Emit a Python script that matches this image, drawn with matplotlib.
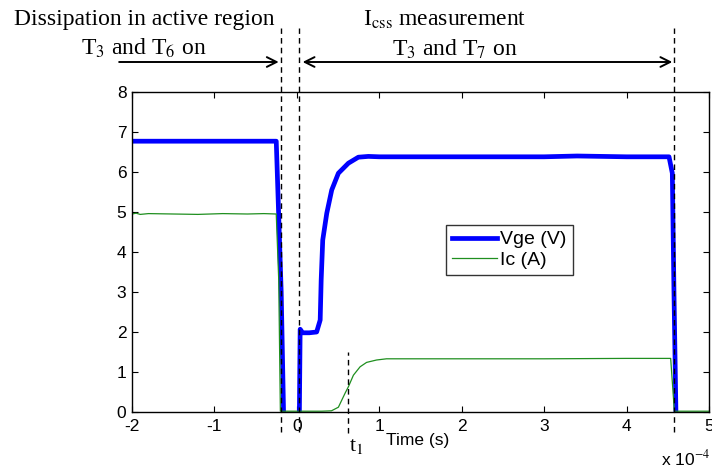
import matplotlib
matplotlib.use("Agg")
import matplotlib.pyplot as plt

# ---------------- data (time in units of 1e-4 s) ----------------
t_vge = [-2.0, -0.25, -0.19, -0.16, 0.03, 0.04, 0.07, 0.15, 0.24, 0.283, 0.295,
         0.314, 0.363, 0.423, 0.504, 0.625, 0.746, 0.867, 1.0, 2.0, 3.0, 3.4,
         4.0, 4.515, 4.555, 4.575, 4.60, 5.0]
vge = [6.77, 6.77, 3.0, -0.15, -0.15, 2.07, 1.98, 1.98, 2.0, 2.3, 3.3,
       4.3, 4.97, 5.55, 5.97, 6.22, 6.37, 6.39, 6.38, 6.38, 6.38, 6.40,
       6.38, 6.38, 5.97, 3.0, -0.15, -0.15]

t_ic = [-2.0, -1.95, -1.9, -1.8, -1.5, -1.2, -0.9, -0.6, -0.4, -0.25, -0.22,
        -0.20, 0.30, 0.42, 0.504, 0.585, 0.625, 0.686, 0.767, 0.846, 0.967,
        1.088, 2.0, 3.0, 4.0, 4.535, 4.58, 5.0]
ic = [4.95, 4.97, 4.94, 4.96, 4.95, 4.94, 4.96, 4.95, 4.96, 4.95, 3.3,
      0.02, 0.02, 0.03, 0.12, 0.47, 0.63, 0.92, 1.13, 1.24, 1.30,
      1.33, 1.33, 1.33, 1.34, 1.34, 0.02, 0.02]

xticks = [-2, -1, 0, 1, 2, 3, 4, 5]
yticks = [0, 1, 2, 3, 4, 5, 6, 7, 8]
dash_x = [-0.19, 0.03, 4.575]
t1_x = 0.62

# ---------------- figure ----------------
W, H = 712, 468
fig = plt.figure(figsize=(W / 100, H / 100), dpi=100)
ax = fig.add_axes([132 / W, 1 - 412 / H, (709 - 132) / W, (412 - 92) / H])

plt.rcParams['mathtext.fontset'] = 'stix'
sans = 'Liberation Sans'
serif = 'Liberation Serif'

ax.plot(t_vge, vge, color='#0000ff', lw=3.4, label='Vge (V)', zorder=3)
ax.plot(t_ic, ic, color='#1f8f1f', lw=0.9, label='Ic (A)', zorder=4)

ax.set_xlim(-2, 5)
ax.set_ylim(0, 8)
ax.set_xticks(xticks)
ax.set_xticklabels([str(v) for v in xticks], fontfamily=sans, fontsize=12.5)
ax.set_yticks(yticks)
ax.set_yticklabels([str(v) for v in yticks], fontfamily=sans, fontsize=12.5)
ax.tick_params(direction='in', length=4, width=0.8, top=True, right=True)
ax.tick_params(axis='x', pad=5)
ax.tick_params(axis='y', pad=4)
for s in ax.spines.values():
    s.set_linewidth(1.0)
    s.set_zorder(6)

# dashed vertical markers (extend beyond axes)
for xv in dash_x:
    ax.plot([xv, xv], [-0.5, 9.6], ls=(0, (4, 3)), color='black', lw=1.0,
            clip_on=False, zorder=5)
ax.plot([t1_x, t1_x], [-0.52, 1.5], ls=(0, (4, 3)), color='black', lw=1.0,
        clip_on=False, zorder=5)

# arrows
arrow_y = 8.75
aprops = dict(arrowstyle='->,head_length=0.7,head_width=0.35', lw=1.4,
              color='black', shrinkA=0, shrinkB=0)
ax.annotate('', xy=(-0.22, arrow_y), xytext=(-2.156, arrow_y),
            xycoords='data', textcoords='data', arrowprops=aprops,
            annotation_clip=False)
ax.annotate('', xy=(4.555, arrow_y), xytext=(0.07, arrow_y),
            xycoords='data', textcoords='data',
            arrowprops=dict(aprops, arrowstyle='<->,head_length=0.7,head_width=0.35'),
            annotation_clip=False)

# legend
leg = ax.legend(loc='upper left', bbox_to_anchor=((446 - 132) / 577, (412 - 225) / 320),
                prop={'family': sans, 'size': 14}, frameon=True, fancybox=False,
                handlelength=2.3, borderpad=0.3, labelspacing=0.15, handletextpad=0.2,
                borderaxespad=0)
leg.get_frame().set_edgecolor('black')
leg.get_frame().set_linewidth(1.0)

def ft(x, y, s, **kw):
    fig.text(x / W, 1 - y / H, s, **kw)

ft(144, 19, 'Dissipation in active region', family=serif, fontsize=17,
   ha='center', va='center')
ft(144, 48, r'T$_{\mathrm{3}}$ and T$_{\mathrm{6}}$ on', family=serif, fontsize=17,
   ha='center', va='center')
ft(445, 20, r'I$_{\mathrm{css}}$ measurement', family=serif, fontsize=17,
   ha='center', va='center')
ft(455, 49, r'T$_{\mathrm{3}}$ and T$_{\mathrm{7}}$ on', family=serif, fontsize=17,
   ha='center', va='center')
ft(356, 446, r't$_{\mathrm{1}}$', family=serif, fontsize=16, ha='center', va='center')
ft(418, 441, 'Time (s)', family=sans, fontsize=12.5, ha='center', va='center')
ft(686, 458, r'x 10$^{-4}$', family=sans, fontsize=12.5, ha='center', va='center')

fig.savefig('out.png', dpi=100)
